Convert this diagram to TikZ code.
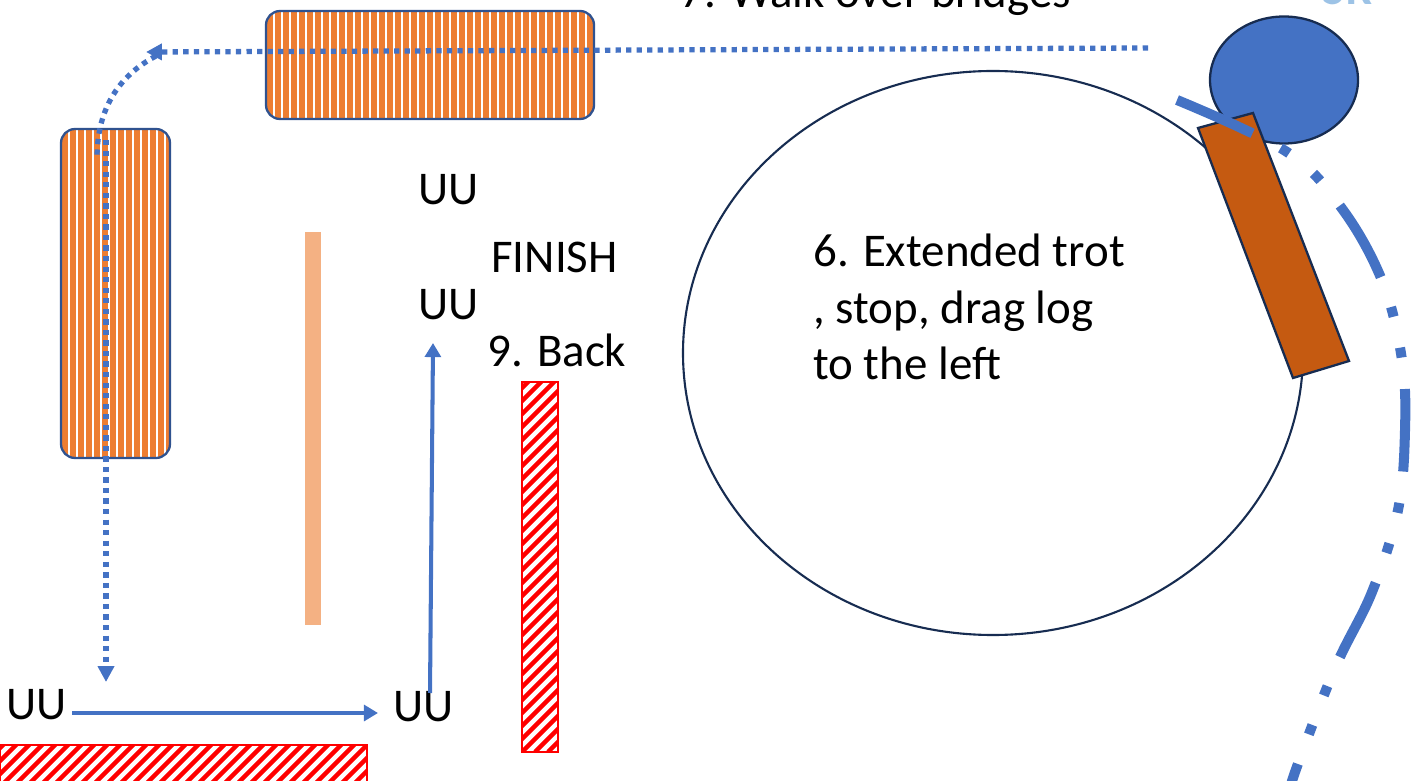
\documentclass[tikz,border=0pt]{standalone}
\usepackage{fontspec}
\setmainfont{Carlito}
\usetikzlibrary{arrows.meta, positioning, calc}
\usepackage{xcolor}
\definecolor{trailblue}{HTML}{4472C4}
\definecolor{trailnavy}{HTML}{2F528F}
\definecolor{trailink}{HTML}{172C51}
\definecolor{trailorange}{HTML}{ED7D31}
\definecolor{trailsand}{HTML}{F4B183}
\definecolor{trailbrown}{HTML}{C55A11}
\definecolor{trailred}{HTML}{FF0000}
\definecolor{trailsky}{HTML}{9DC3E6}

\begin{document}
\begin{tikzpicture}[
    x=0.2mm, y=-0.2mm,
    bridge/.style={
        draw=trailnavy,
        line width=1.3pt,
        rounded corners=8pt,
        path picture={
            \foreach \s in {0,...,45}
                \fill[trailorange, sharp corners] ([xshift=\s*1.6mm+0.2mm]path picture bounding box.north west) rectangle ++(1.1mm,-100mm);
        }
    },
    hatch/.style={
        draw=trailred,
        line width=1.2pt,
        path picture={
            \foreach \s in {-40,...,40}
                \draw[trailred, line width=2.6pt] ([xshift=\s*2.6mm]path picture bounding box.south west) -- ++(90mm,90mm);
        }
    },
    trail dots/.style={
        trailblue,
        line width=3pt,
        dash pattern=on 3pt off 3pt,
        >={Triangle[length=9pt, width=9pt]}
    },
    trail arrow/.style={
        ->,
        >={Triangle[length=8pt, width=9pt]},
        trailblue,
        line width=2.3pt
    },
    ring/.style={
        trailblue,
        line width=5.7pt,
        dash pattern=on 47pt off 18pt on 5.7pt off 18pt on 5.7pt off 18pt
    },
    sign/.style={
        font=\fontsize{26.7}{32.4}\selectfont,
        inner sep=0pt,
        anchor=base west
    }
]

\useasboundingbox (0,0) rectangle (1411,781);
\clip (0,0) rectangle (1411,781);

% Bridges
\path[bridge] (266,11) rectangle (594,119);
\path[bridge] (61,129) rectangle (170,458);

% Poles and walls
\fill[trailsand] (305,232) rectangle (321,625);
\path[hatch] (522,382) rectangle (558,752);
\path[hatch] (0,745) rectangle (367,800);

% Trot circle, barrel and log
\draw[trailink, line width=1.2pt] (993,353) ellipse [x radius=62mm, y radius=56.4mm];
\fill[trailblue, draw=trailink, line width=1.3pt] (1284,80) ellipse [x radius=14.8mm, y radius=12.7mm];
\filldraw[fill=trailbrown, draw=trailink, line width=1.3pt] (1198,128) -- (1253,113) -- (1349,361) -- (1293,378) -- cycle;
\draw[ring] plot[smooth, tension=0.6] coordinates {(1177,100) (1287,152) (1343,210) (1383,283) (1402,360) (1405,430) (1398,510) (1372,592) (1335,668) (1295,772) (1288,800)};

% Texts
\node[sign] (walk) at (680,8) {7. Walk over bridges};
\node[sign, text=trailsky, font=\fontsize{26.7}{32.4}\selectfont\bfseries] (corner) at (1322,5) {5K};
\node[sign] (uuTop) at (418,205) {UU};
\node[sign] (finish) at (491,273) {FINISH};
\node[sign] (uuMid) at (418,320) {UU};
\node[sign] (back) at (487,367) {9. Back};
\node[sign] (uuLeft) at (6,719) {UU};
\node[sign] (uuRight) at (393,721) {UU};
\node[sign, align=left] (trot) at (813,380) {6. Extended trot\\, stop, drag log\\to the left};

% Route
\coordinate (walkStart) at (1148,48);
\coordinate (walkEnd) at (146,52);
\coordinate (bendTop) at (156,56);
\coordinate (bendEnd) at (97,158);
\coordinate (dropTop) at (106,140);
\coordinate (dropEnd) at (106,682);
\coordinate (runStart) at (72,713);
\coordinate (runEnd) at (378,713);
\coordinate (backStart) at (430,693);
\coordinate (backEnd) at (433,343);

\draw[trail dots, ->] (walkStart) -- (walkEnd);
\draw[trail dots] (bendTop) .. controls (118,76) and (97,110) .. (bendEnd);
\draw[trail dots, ->] (dropTop) -- (dropEnd);
\draw[trail arrow] (runStart) -- (runEnd);
\draw[trail arrow] (backStart) -- (backEnd);

\end{tikzpicture}
\end{document}
